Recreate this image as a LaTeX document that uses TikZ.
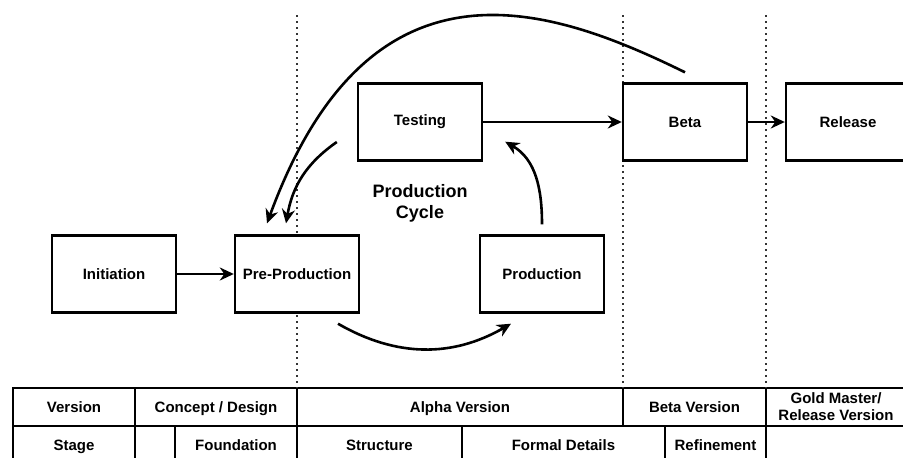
\documentclass[tikz,border=0pt]{standalone}
\usepackage{fontspec}
\setmainfont{Liberation Sans}
\usetikzlibrary{arrows.meta}
\usetikzlibrary{calc}

\begin{document}
\begin{tikzpicture}[x=1pt, y=1pt, >={Stealth[length=14pt,width=13pt,inset=4.5pt]}]
    \fontsize{15}{18}\selectfont\bfseries

    % TikZ styles for drawing %%%%%%%%%%%%%%%%%%%%%%%%%%%%%%%%%%%%%%%%%%%%%%%%%%%%%%
    \tikzstyle{block} = [draw,rectangle,fill=white,line width=2.4pt,minimum width=124pt,minimum height=77pt,inner sep=0pt]
    \tikzstyle{cell} = [draw,rectangle,line width=2.8pt,minimum height=38pt,inner sep=0pt,outer sep=0pt,anchor=north west,text depth=-2pt]
    \tikzstyle{connector} = [->,line width=2.6pt]
    \tikzstyle{divider} = [line width=1.6pt,dash pattern=on 1.6pt off 4.4pt,black!80]

    % Page frame %%%%%%%%%%%%%%%%%%%%%%%%%%%%%%%%%%%%%%%%%%%%%%%%%%%%%%%%%%%%%%%%%%%%%%%
    \useasboundingbox (0,0) rectangle (903,-458);
    \clip (0,0) rectangle (903,-458);

    % Table of versions and stages %%%%%%%%%%%%%%%%%%%%%%%%%%%%%%%%%%%%%%%%%%%%%%%%%%%%%
    % row 1
    \node[cell, minimum width=122pt] (version) at (13,-388) {Version};
    \node[cell, minimum width=162pt] (concept) at (135,-388) {Concept / Design};
    \node[cell, minimum width=326pt] (alpha) at (297,-388) {Alpha Version};
    \node[cell, minimum width=143pt] (betaver) at (623,-388) {Beta Version};
    \node[cell, minimum width=140pt, align=center, font=\fontsize{15}{17}\selectfont\bfseries] (gold) at (766,-388) {Gold Master/\\Release Version};

    % row 2
    \node[cell, minimum width=122pt] (stage) at (13,-426) {Stage};
    \node[cell, minimum width=40pt] (blank) at (135,-426) {};
    \node[cell, minimum width=122pt] (found) at (175,-426) {Foundation};
    \node[cell, minimum width=165pt] (struct) at (297,-426) {Structure};
    \node[cell, minimum width=203pt] (formal) at (462,-426) {Formal Details};
    \node[cell, minimum width=101pt] (refine) at (665,-426) {Refinement};
    \node[cell, minimum width=140pt] (last) at (766,-426) {};

    % Phase dividers %%%%%%%%%%%%%%%%%%%%%%%%%%%%%%%%%%%%%%%%%%%%%%%%%%%%%%%%%%%%%%%%%%%
    \draw [divider] (297,-15) -- (alpha.north west);
    \draw [divider] (623,-15) -- (betaver.north west);
    \draw [divider] (766,-15) -- (gold.north west);

    % Stages %%%%%%%%%%%%%%%%%%%%%%%%%%%%%%%%%%%%%%%%%%%%%%%%%%%%%%%%%%%%%%%%%%%%%%%%%%%
    \node[block] (init) at (114,-274) {Initiation};
    \node[block] (prepro) at (297,-274) {Pre-Production};
    \node[block] (prod) at (542,-274) {Production};
    \node[block] (test) at (420,-122) {Testing};
    \node[block] (beta) at (685,-122) {Beta};
    \node[block] (release) at (848,-122) {Release};
    \node[align=center, font=\fontsize{18}{21}\selectfont\bfseries] (cycle) at (420,-203) {Production\\Cycle};

    % Now link the nodes %%%%%%%%%%%%%%%%%%%%%%%%%%%%%%%%%%%%%%%%%%%%%%%%%%%%%%%%%%%%%%%%
    \draw [connector] (init) -- (prepro);
    \draw [connector] (test) -- (beta);
    \draw [connector] (beta) -- (release);
    \draw [connector] ([shift={(41,-10)}]prepro.south) to[bend right=30] ([shift={(-31,-10)}]prod.south);
    \draw [connector] ([yshift=10pt]prod.north) to[out=90, in=-30] ([shift={(22,20)}]test.south east);
    \draw [connector] ([shift={(-20,-20)}]test.west) to[out=-145, in=80] ([shift={(-11,11)}]prepro.north);
    \draw [connector] ([yshift=10pt]beta.north) .. controls (550,-6) and (370,57) .. ([shift={(-30,11)}]prepro.north);

\end{tikzpicture}
\end{document}
